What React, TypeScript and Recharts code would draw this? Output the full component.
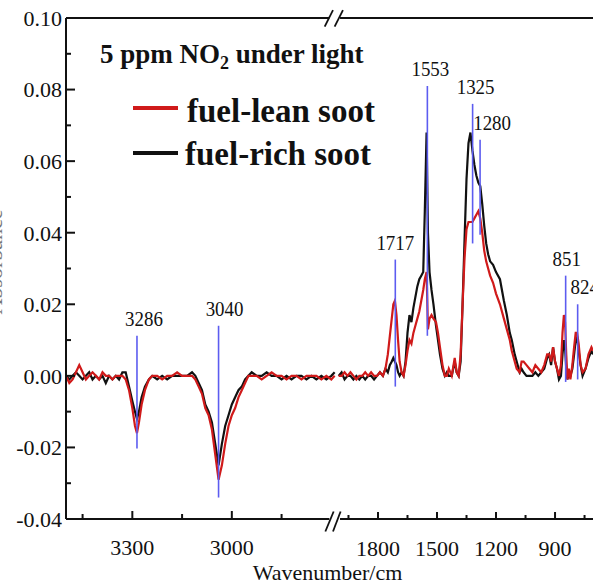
import React from "react";
import { LineChart, Line, XAxis, YAxis, ReferenceLine, Legend } from "recharts";

document.body.style.margin = "0";

const SERIF = '"Liberation Serif", "Times New Roman", serif';

// high-wavenumber part (left of the axis break)
const highWavenumbers = [
  3500, 3490, 3480, 3470, 3460, 3450, 3440, 3430, 3420, 3410, 3400, 3390, 3380, 3370, 3360, 3350, 3340, 3330, 3320, 3310, 3300,
  3292, 3286, 3280, 3272, 3262, 3250, 3240,
  3225, 3210, 3195, 3180, 3165, 3150, 3135, 3120,
  3110, 3100, 3090, 3080, 3070, 3060, 3050, 3040, 3030, 3020, 3010, 3000, 2990, 2980, 2970, 2960, 2950, 2940,
  2925, 2910, 2895, 2880, 2865, 2850, 2835, 2820, 2805, 2790, 2775, 2760, 2745, 2730, 2715, 2700, 2690,
];
const highRich = [
  0, -0.001, 0, 0.001, 0, -0.001, 0, 0.001, -0.001, 0, -0.001, 0, -0.002, 0, -0.001, 0, -0.001, 0.001, 0.001, -0.003, -0.007,
  -0.01, -0.012, -0.01, -0.006, -0.003, -0.001, 0,
  -0.001, 0, -0.001, 0, 0, 0, 0, 0.001,
  0, -0.002, -0.004, -0.008, -0.01, -0.013, -0.019, -0.025, -0.019, -0.014, -0.011, -0.008, -0.006, -0.004, -0.003, -0.001, 0, 0.001,
  0, 0, 0.001, 0, 0, -0.001, 0, -0.001, 0, 0, -0.001, 0, -0.001, 0, -0.001, 0, 0.001,
];
const highLean = [
  0, -0.002, -0.001, 0.001, 0.003, 0.001, -0.001, 0, 0.001, 0, -0.001, 0.001, 0, 0, -0.001, 0, 0, 0, -0.001, -0.004, -0.009,
  -0.014, -0.016, -0.013, -0.008, -0.004, -0.001, 0,
  0, -0.001, 0, 0, 0.001, 0, 0, 0,
  -0.001, -0.003, -0.005, -0.009, -0.011, -0.015, -0.022, -0.029, -0.025, -0.019, -0.014, -0.011, -0.009, -0.006, -0.004, -0.002, 0, 0,
  0, -0.001, 0, 0.001, 0, 0, -0.001, 0, 0, -0.001, 0, 0, 0, -0.001, 0, -0.001, 0,
];

// fingerprint part (right of the axis break)
const lowWavenumbers = [
  2000, 1985, 1970, 1955, 1940, 1925, 1910, 1895, 1880, 1865, 1850, 1835, 1820, 1805, 1790, 1775, 1762,
  1750, 1740, 1730, 1722, 1714, 1706, 1698, 1690, 1680, 1670, 1660, 1650, 1640, 1630, 1620, 1610, 1600,
  1590, 1580, 1570, 1562, 1553, 1546, 1538, 1528, 1518, 1505, 1495, 1485, 1472, 1460, 1450, 1440, 1425,
  1410, 1400, 1390, 1380, 1370, 1360, 1350, 1340, 1330, 1320, 1310, 1300, 1290, 1280, 1270, 1260, 1250,
  1240, 1230, 1215, 1200, 1180, 1160, 1145, 1130, 1120, 1105, 1095, 1080, 1070, 1060, 1045, 1030, 1015,
  1000, 985, 970, 955, 940, 930, 920, 910, 900, 890, 880, 870, 862, 855, 849, 843, 837, 830, 822, 812,
  803, 795, 788, 780, 770, 760, 745, 730, 715, 707,
];
const lowRich = [
  0, 0.001, -0.001, 0, 0, -0.001, 0, -0.001, 0, -0.001, 0, 0, -0.001, 0, 0.001, 0, 0.002,
  0.001, 0.003, 0.004, 0.005, 0.004, 0.003, 0.001, 0, 0.001, 0, 0.004, 0.012, 0.017, 0.015, 0.019, 0.022, 0.025,
  0.027, 0.028, 0.029, 0.046, 0.068, 0.04, 0.029, 0.024, 0.02, 0.014, 0.01, 0.006, 0.002, 0, 0.001, 0, 0,
  0.004, 0.001, 0, 0.004, 0.02, 0.038, 0.055, 0.065, 0.068, 0.063, 0.059, 0.056, 0.054, 0.053, 0.048, 0.042, 0.037,
  0.034, 0.032, 0.031, 0.029, 0.027, 0.021, 0.017, 0.012, 0.01, 0.006, 0.004, 0.001, 0.002, 0.001, 0, 0, 0,
  0.001, 0, 0.001, 0.002, 0.005, 0.006, 0.003, 0.008, 0.004, 0.002, -0.001, 0, 0.006, 0.01, 0.008, 0.002, -0.001, 0.001, 0, 0.002,
  0.006, 0.01, 0.011, 0.007, 0.003, 0, 0.002, 0.005, 0.007, 0.006,
];
const lowLean = [
  0, 0, 0.001, 0, 0.001, 0, -0.001, 0, 0, 0.001, 0, 0.001, 0, 0, 0.001, 0, 0.002,
  0.006, 0.011, 0.016, 0.02, 0.021, 0.017, 0.01, 0.004, 0.001, 0, 0.003, 0.007, 0.01, 0.009, 0.012, 0.014, 0.016,
  0.018, 0.021, 0.024, 0.027, 0.029, 0.013, 0.016, 0.017, 0.016, 0.015, 0.012, 0.008, 0.003, 0, 0, 0.002, 0,
  0.005, 0.001, 0, 0.006, 0.02, 0.033, 0.041, 0.043, 0.043, 0.043, 0.044, 0.045, 0.046, 0.044, 0.04, 0.035, 0.032,
  0.03, 0.028, 0.026, 0.023, 0.02, 0.016, 0.013, 0.01, 0.007, 0.004, 0.002, 0.001, 0.004, 0.004, 0.003, 0.002, 0.001,
  0.003, 0.002, 0.001, 0.003, 0.006, 0.006, 0.004, 0.008, 0.004, 0.002, 0, 0.003, 0.012, 0.017, 0.015, 0.006, -0.001, 0.002, -0.001, 0.003,
  0.008, 0.012, 0.012, 0.009, 0.003, 0.001, 0.002, 0.006, 0.008, 0.007,
];

// assigned bands: label, position, extent of the marker
const peakLabels = ["3286", "3040", "1717", "1553", "1325", "1280", "851", "824"];
const peakPositions = [3286, 3040, 1712, 1549, 1319, 1281, 846, 785];
const peakTops = [0.0112, 0.014, 0.0325, 0.081, 0.076, 0.066, 0.028, 0.02];
const peakBottoms = [-0.0203, -0.034, -0.003, 0.0112, 0.037, 0.0394, -0.0017, -0.001];

const yTicks = [-0.04, -0.03, -0.02, -0.01, 0, 0.01, 0.02, 0.03, 0.04, 0.05, 0.06, 0.07, 0.08, 0.09, 0.1];
const highTicks = [3450, 3300, 3150, 3000, 2850];
const lowTicks = [1950, 1800, 1650, 1500, 1350, 1200, 1050, 900, 750];
const labelledTicks = [3300, 3000, 1800, 1500, 1200, 900];

const LEAN = "fuel-lean soot";
const RICH = "fuel-rich soot";
const legendOrder = [LEAN, RICH];

const highDomain = [1911, 3500];
const lowDomain = [707, 3386];
const highBreak = 2706;
const lowBreak = 1993;

const highData = highWavenumbers.map((w, i) => ({ w, rich: highRich[i], lean: highLean[i] }));
const lowData = lowWavenumbers.map((w, i) => ({ w, rich: lowRich[i], lean: lowLean[i] }));

const RED = "#d01a1a";
const BLACK = "#111";
const BLUE = "#5c5cf0";

const labelShift: Record<string, number> = { "3286": 7, "3040": 6, "1553": 3, "1325": 3, "1280": 12, "851": 1, "824": 7 };

function YTick({ x, y, payload }: any) {
  const major = Math.round(payload.value * 100) % 2 === 0;
  return (
    <g>
      <line x1={x} x2={x + (major ? 9 : 5)} y1={y} y2={y} stroke={BLACK} strokeWidth={2} />
      {major && (
        <text x={x - 4} y={y} dy="0.36em" textAnchor="end" fontSize={22} fontFamily={SERIF} fill={BLACK}>
          {payload.value.toFixed(2)}
        </text>
      )}
    </g>
  );
}

function XTick({ x, y, payload }: any) {
  const v = Number(payload.value);
  const major = labelledTicks.includes(v);
  return (
    <g>
      <line x1={x} x2={x} y1={y} y2={y - (major ? 8 : 5)} stroke={BLACK} strokeWidth={2} />
      {major && (
        <text x={x} y={y + 36} textAnchor="middle" fontSize={22} fontFamily={SERIF} fill={BLACK}>
          {v}
        </text>
      )}
    </g>
  );
}

function AxisTitle({ viewBox }: any) {
  return (
    <text x={viewBox.x + viewBox.width / 2 - 2} y={580} textAnchor="middle" fontSize={22} fontFamily={SERIF} fill={BLACK}>
      Wavenumber/cm
    </text>
  );
}

// band labels in the source are tall and narrow
function PeakLabel({ viewBox, text }: any) {
  const cx = viewBox.x + (labelShift[text] || 0);
  const cy = viewBox.y - 10;
  return (
    <text
      transform={`translate(${cx} ${cy}) scale(0.86 1)`}
      textAnchor="middle"
      fontSize={22}
      fontFamily={SERIF}
      fill={BLACK}
    >
      {text}
    </text>
  );
}

function Overlay({ payload }: any) {
  const items = legendOrder
    .map((name) => (payload || []).find((p: any) => p.value === name && p.type !== "none"))
    .filter(Boolean);
  return (
    <svg width={593} height={584} style={{ display: "block", overflow: "visible" }}>
      <text x={100} y={63} fontSize={27} fontWeight="bold" fontFamily={SERIF} fill={BLACK}>
        5 ppm NO
        <tspan dy={6} fontSize={18}>2</tspan>
        <tspan dy={-6}> under light</tspan>
      </text>
      {items.map((it: any, i: number) => (
        <g key={it.value}>
          <line x1={133} x2={178} y1={108 + i * 45} y2={108 + i * 45} stroke={it.color} strokeWidth={4} />
          <text x={187 - i * 2} y={122 + i * 43} fontSize={33} fontWeight="bold" fontFamily={SERIF} fill={BLACK}>
            {it.value}
          </text>
        </g>
      ))}
      <text
        x={2}
        y={262}
        transform="rotate(-90 2 262)"
        textAnchor="middle"
        fontSize={22}
        fontFamily={SERIF}
        fill="#777"
      >
        Absorbance
      </text>
    </svg>
  );
}

export default function App() {
  const frame = (id: string, from: number, to: number, y: number) => (
    <ReferenceLine
      key={`${id}-${y}`}
      xAxisId={id}
      segment={[{ x: from, y }, { x: to, y }]}
      stroke={BLACK}
      strokeWidth={2}
      ifOverflow="visible"
    />
  );
  // the "//" break marks, drawn on the high-wavenumber scale
  const slash = (x0: number, x1: number, yLow: number, yHigh: number, k: string) => (
    <ReferenceLine
      key={k}
      xAxisId="L"
      segment={[{ x: x0, y: yLow }, { x: x1, y: yHigh }]}
      stroke={BLACK}
      strokeWidth={1.8}
      ifOverflow="visible"
    />
  );

  return (
    <div style={{ width: 593, height: 584, background: "#fff" }}>
      <LineChart
        width={593}
        height={584}
        margin={{ top: 18, right: 0, bottom: 63, left: 0 }}
        style={{ fontFamily: SERIF }}
      >
        <XAxis
          xAxisId="L"
          type="number"
          dataKey="w"
          domain={highDomain}
          reversed
          allowDataOverflow
          ticks={highTicks}
          interval={0}
          tick={<XTick />}
          tickLine={false}
          axisLine={false}
          tickSize={0}
          tickMargin={0}
          height={1}
        />
        <XAxis
          xAxisId="R"
          type="number"
          dataKey="w"
          domain={lowDomain}
          reversed
          allowDataOverflow
          ticks={lowTicks}
          interval={0}
          tick={<XTick />}
          tickLine={false}
          axisLine={false}
          tickSize={0}
          tickMargin={0}
          height={1}
          label={<AxisTitle />}
        />
        <YAxis
          type="number"
          domain={[-0.04, 0.1]}
          allowDataOverflow
          ticks={yTicks}
          interval={0}
          width={66}
          tick={<YTick />}
          tickLine={false}
          tickSize={0}
          tickMargin={0}
          axisLine={{ stroke: BLACK, strokeWidth: 2 }}
        />
        <Legend
          layout="horizontal"
          verticalAlign="middle"
          align="center"
          content={<Overlay />}
          wrapperStyle={{ top: 0, left: 0, width: 593, height: 584, pointerEvents: "none" }}
        />

        {frame("L", 3500, highBreak, -0.04)}
        {frame("L", 3500, highBreak, 0.1)}
        {frame("R", lowBreak, lowDomain[0], -0.04)}
        {frame("R", lowBreak, lowDomain[0], 0.1)}
        {slash(2718, 2693, -0.0435, -0.0379, "b1")}
        {slash(2695, 2672, -0.0435, -0.0379, "b2")}
        {slash(2720, 2695, 0.0976, 0.1022, "t1")}
        {slash(2690, 2665, 0.0976, 0.1022, "t2")}

        <Line xAxisId="L" data={highData} dataKey="rich" name={RICH} stroke={BLACK} strokeWidth={2.2} dot={false} isAnimationActive={false} />
        <Line xAxisId="R" data={lowData} dataKey="rich" name={RICH} stroke={BLACK} strokeWidth={2.2} dot={false} legendType="none" isAnimationActive={false} />
        <Line xAxisId="L" data={highData} dataKey="lean" name={LEAN} stroke={RED} strokeWidth={2.2} dot={false} isAnimationActive={false} />
        <Line xAxisId="R" data={lowData} dataKey="lean" name={LEAN} stroke={RED} strokeWidth={2.2} dot={false} legendType="none" isAnimationActive={false} />

        {peakLabels.map((lbl, i) => (
          <ReferenceLine
            key={lbl}
            xAxisId={peakPositions[i] > 2500 ? "L" : "R"}
            segment={[{ x: peakPositions[i], y: peakBottoms[i] }, { x: peakPositions[i], y: peakTops[i] }]}
            stroke={BLUE}
            strokeWidth={1.6}
            ifOverflow="visible"
            label={<PeakLabel text={lbl} />}
          />
        ))}
      </LineChart>
    </div>
  );
}
